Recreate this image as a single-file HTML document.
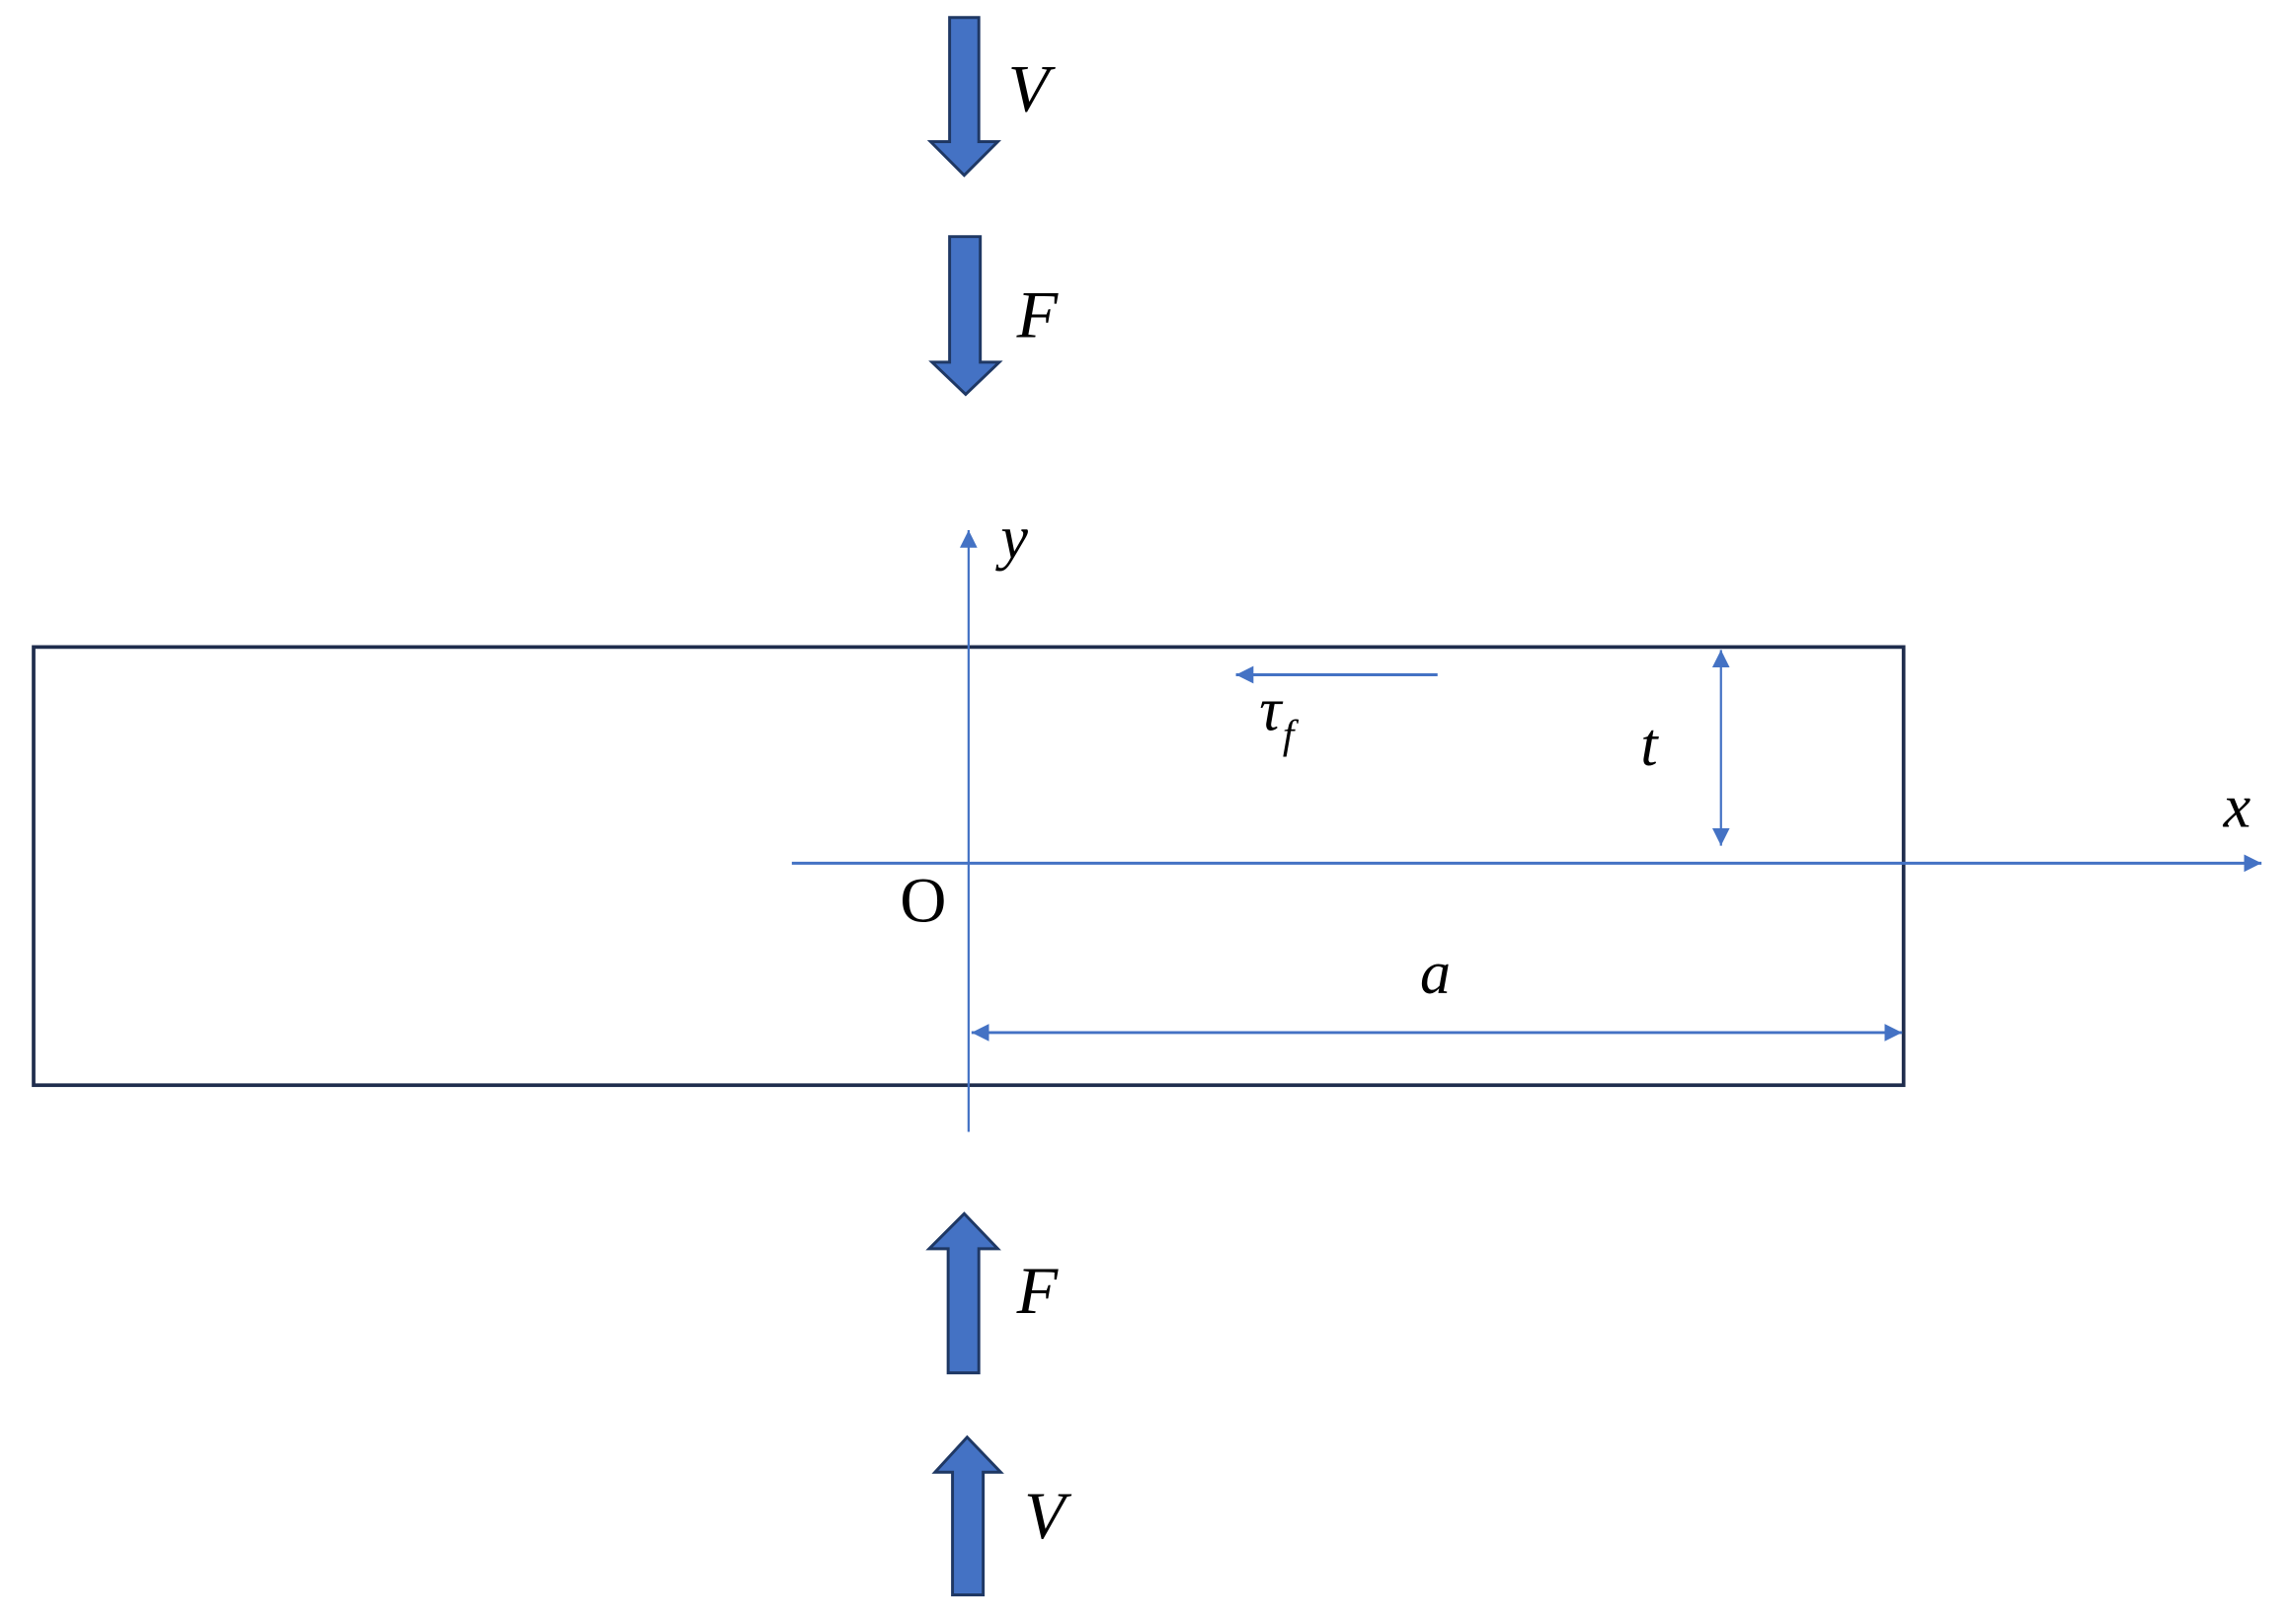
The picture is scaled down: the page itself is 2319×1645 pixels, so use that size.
<!DOCTYPE html>
<html><head><meta charset="utf-8"><style>html,body{margin:0;padding:0;background:#fff}svg{display:block}</style></head>
<body>
<svg width="2319" height="1645" viewBox="0 0 1567.5 1111.5" preserveAspectRatio="xMinYMin meet" xmlns="http://www.w3.org/2000/svg">
<defs>
<marker id="ah2" viewBox="0 0 10 10" refX="10" refY="5" markerWidth="12" markerHeight="12" markerUnits="userSpaceOnUse" orient="auto-start-reverse"><path d="M0,0 L10,5 L0,10 z" fill="#4472c4"/></marker>
</defs>
<rect width="1568" height="1112" fill="#fff"/>
<rect x="23" y="443" width="1280" height="300" fill="none" stroke="#1f2d4d" stroke-width="2.5"/>
<g stroke="#4472c4" stroke-width="1.5" fill="none">
<line x1="663" y1="775" x2="663" y2="363" marker-end="url(#ah2)"/>
<line x1="542" y1="591" x2="1548" y2="591" stroke-width="2" marker-end="url(#ah2)"/>
<line x1="984" y1="462" x2="846" y2="462" stroke-width="2" marker-end="url(#ah2)"/>
<line x1="1178" y1="445" x2="1178" y2="579" marker-start="url(#ah2)" marker-end="url(#ah2)"/>
<line x1="665" y1="707" x2="1302" y2="707" stroke-width="2" marker-start="url(#ah2)" marker-end="url(#ah2)"/>
</g>
<g fill="#4472c4" stroke="#1f3864" stroke-width="2">
<path d="M650,12 L670,12 L670,97 L683,97 L660,120 L637,97 L650,97 Z"/>
<path d="M650,162 L671,162 L671,248 L684,248 L661,270 L638,248 L650,248 Z"/>
<path d="M649,940 L670,940 L670,855 L683,855 L660,831 L636,855 L649,855 Z"/>
<path d="M652,1092 L673,1092 L673,1008 L685,1008 L662,984 L640,1008 L652,1008 Z"/>
</g>
<g font-family="Liberation Serif, serif" font-style="italic" fill="#000">
<text x="690" y="76" font-size="46">V</text>
<text x="696" y="231" font-size="46">F</text>
<text x="696" y="899" font-size="46">F</text>
<text x="701" y="1053" font-size="46">V</text>
<text x="685" y="382" font-size="42">y</text>
<text x="862" y="500" font-size="42">τ</text>
<text x="878" y="512" font-size="28">f</text>
<text x="1123" y="524" font-size="42">t</text>
<text x="1522" y="566" font-size="42">x</text>
<text x="972" y="680" font-size="42">a</text>
</g>
<text x="616" y="631" font-family="Liberation Serif, serif" font-size="44" fill="#000">O</text>
</svg>
</body></html>
